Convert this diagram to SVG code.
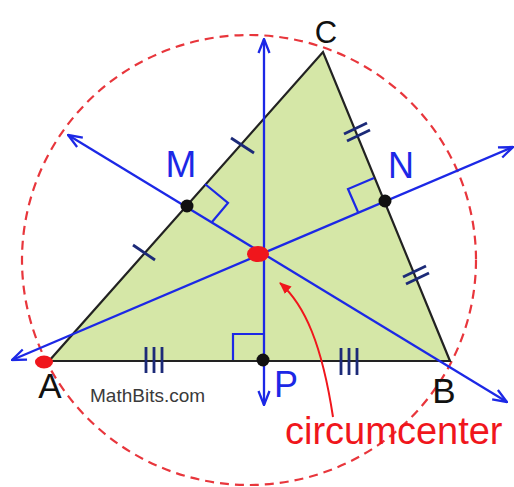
<svg xmlns="http://www.w3.org/2000/svg" width="514" height="487" viewBox="0 0 514 487">
<style>
.tri{fill:#d5e7a7;stroke:#222;stroke-width:2.2;stroke-linejoin:miter}
.circ{fill:none;stroke:#e8363c;stroke-width:2.2;stroke-dasharray:9 6}
.bis{stroke:#1c28e6;stroke-width:2.3;fill:none}
.ra{stroke:#1c28e6;stroke-width:2.2;fill:none}
.tick{stroke:#1c2a78;stroke-width:2.8;fill:none}
.dot{fill:#111}
.lbl{font-family:"Liberation Sans",Arial,sans-serif;fill:#111}
.blbl{font-family:"Liberation Sans",Arial,sans-serif;fill:#1c28e6}
.red{fill:#f0161c}
</style>
<defs>
<marker id="ar" viewBox="0 0 16 14" refX="15" refY="7" markerWidth="16" markerHeight="14" markerUnits="userSpaceOnUse" orient="auto-start-reverse">
<path d="M1,1.5 L15,7 L1,12.5" fill="none" stroke="#1c28e6" stroke-width="2.3"/>
</marker>
<marker id="rar" viewBox="0 0 12 10" refX="11" refY="5" markerWidth="12" markerHeight="10" markerUnits="userSpaceOnUse" orient="auto">
<path d="M0,0 L12,5 L0,10 Z" fill="#f0161c"/>
</marker>
</defs>
<rect width="514" height="487" fill="#fff"/>
<g id="circumcircle"><ellipse class="circ" cx="249" cy="260" rx="227" ry="225"/></g>
<g id="triangle">
<polygon class="tri" points="49,361 450,361 323,52"/>
<line class="tick" x1="231" y1="138" x2="254" y2="153"/>
<line class="tick" x1="133" y1="245" x2="155" y2="260"/>
<line class="tick" x1="344" y1="134" x2="367" y2="123"/>
<line class="tick" x1="347" y1="141" x2="370" y2="130"/>
<line class="tick" x1="403" y1="277" x2="426" y2="266"/>
<line class="tick" x1="406" y1="284" x2="429" y2="273"/>
<path class="tick" d="M146,347V373M154,347V373M162,347V373"/>
<path class="tick" d="M341,348V375M349,348V375M357,348V375"/>
</g>
<g id="connectors">
<line class="bis" x1="68" y1="135" x2="507" y2="402" marker-start="url(#ar)" marker-end="url(#ar)"/>
<line class="bis" x1="12" y1="360" x2="513" y2="147" marker-start="url(#ar)" marker-end="url(#ar)"/>
<line class="bis" x1="264" y1="39" x2="264" y2="405" marker-start="url(#ar)" marker-end="url(#ar)"/>
<path d="M333,417 C322,345 305,305 280,283" fill="none" stroke="#f0161c" stroke-width="2" marker-end="url(#rar)"/>
</g>
<g id="M">
<path class="ra" d="M205,184 L228,203 L212,222"/>
<circle class="dot" cx="187" cy="206" r="6.5"/>
<text class="blbl" x="181" y="177" font-size="37" text-anchor="middle">M</text>
</g>
<g id="N">
<path class="ra" d="M374,178 L348,189 L358,212"/>
<circle class="dot" cx="385" cy="201" r="6.5"/>
<text class="blbl" x="401" y="178" font-size="36" text-anchor="middle">N</text>
</g>
<g id="P">
<path class="ra" d="M264,334 H233 V360"/>
<circle class="dot" cx="263" cy="360" r="6.5"/>
<text class="blbl" x="286" y="397" font-size="36" text-anchor="middle">P</text>
</g>
<g id="A">
<ellipse class="red" cx="44" cy="362" rx="9" ry="6.5"/>
<text class="lbl" x="50" y="398" font-size="35" text-anchor="middle">A</text>
</g>
<g id="B">
<text class="lbl" x="444" y="403" font-size="35" text-anchor="middle">B</text>
</g>
<g id="C">
<text class="lbl" x="326" y="43" font-size="31" text-anchor="middle">C</text>
</g>
<g id="circumcenter">
<ellipse class="red" cx="258" cy="254" rx="11" ry="8"/>
<text x="285" y="444" font-size="38" font-family="Liberation Sans,Arial,sans-serif" fill="#f0161c">circumcenter</text>
</g>
<g id="watermark">
<text x="90" y="402" font-size="19" font-family="Liberation Sans,Arial,sans-serif" fill="#3a3a3a">MathBits.com</text>
</g>
</svg>
